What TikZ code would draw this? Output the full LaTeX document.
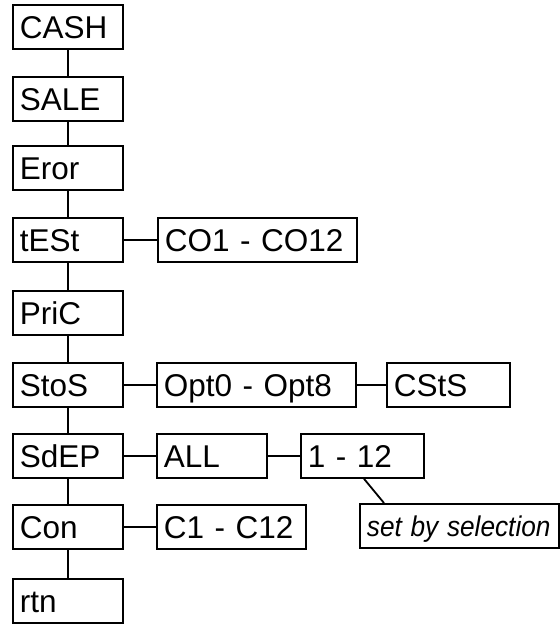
\documentclass[tikz,border=0pt]{standalone}
\usepackage{fontspec}
\usepackage{graphicx}
\setmainfont{Liberation Sans}
\usetikzlibrary{calc}
\newcommand\mainf{\fontsize{31.5}{36}\selectfont}
\newcommand\notef{\fontsize{28.5}{32}\selectfont\itshape}
\tikzset{
  box/.style={draw, line width=1.8pt, anchor=north west, inner xsep=7pt, inner ysep=0pt,
    minimum height=44pt, text height=22.6pt, text depth=0pt, align=left, font=\mainf},
  w/.style={minimum width=#1pt, text width={#1pt-14pt}},
  link/.style={line width=1.8pt},
}
\begin{document}
\begin{tikzpicture}[x=1pt,y=-1pt]
\useasboundingbox (0,0) rectangle (560,625);
% main column
\node[box,w=110] (cash) at (12,4) {CASH};
\node[box,w=110] (sale) at (12,76) {SALE};
\node[box,w=110] (eror) at (12,145) {Eror};
\node[box,w=110] (test) at (12,217) {tESt};
\node[box,w=110] (pric) at (12,290) {PriC};
\node[box,w=110] (stos) at (12,362) {StoS};
\node[box,w=110] (sdep) at (12,433) {SdEP};
\node[box,w=110] (con) at (12,504) {Con};
\node[box,w=110] (rtn) at (12,578) {rtn};
% side boxes
\node[box,w=199] (co) at (157,217) {CO1 - CO12};
\node[box,w=199] (opt) at (156,362) {Opt0 - Opt8};
\node[box,w=123] (csts) at (386,362) {CStS};
\node[box,w=110] (all) at (156,433) {ALL};
\node[box,w=123] (range) at (300,433) {1 - 12};
\node[box,w=149] (c) at (156,504) {C1 - C12};
\node[box,w=199,inner xsep=6pt,font=\notef,text height=20.5pt] (sel) at (359,503) {\scalebox{0.92}[1]{set by selection}};
% connectors
\draw[link] (cash) -- (sale);
\draw[link] (sale) -- (eror);
\draw[link] (eror) -- (test);
\draw[link] (test) -- (pric);
\draw[link] (pric) -- (stos);
\draw[link] (stos) -- (sdep);
\draw[link] (sdep) -- (con);
\draw[link] (con) -- (rtn);
\draw[link] (test.east) -- (co.west);
\draw[link] (stos.east) -- (opt.west);
\draw[link] (opt.east) -- (csts.west);
\draw[link] (sdep.east) -- (all.west);
\draw[link] (all.east) -- (range.west);
\draw[link] (con.east) -- (c.west);
\draw[link] ($(range.south west)+(64,0)$) -- ($(sel.north west)+(25,0)$);
\end{tikzpicture}
\end{document}
